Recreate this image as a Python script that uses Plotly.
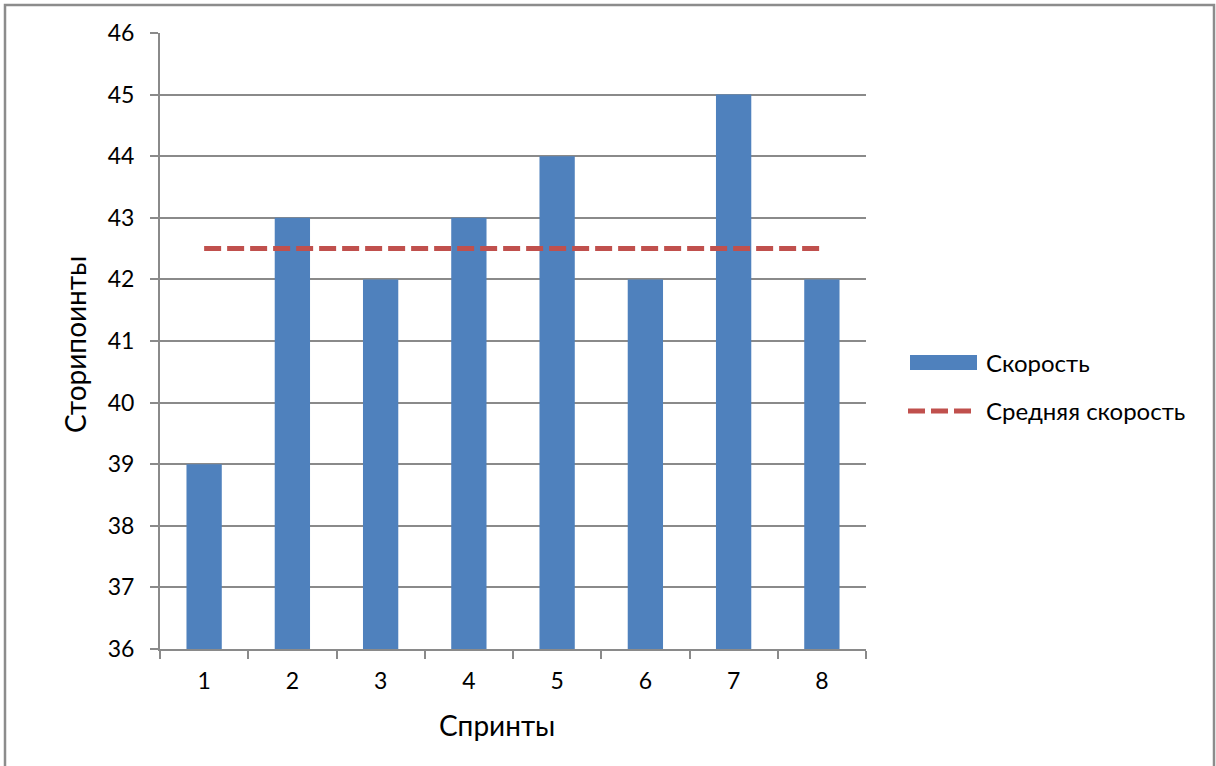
import plotly.graph_objects as go

# Sprint velocity data
sprints = ["1", "2", "3", "4", "5", "6", "7", "8"]
velocity = [39, 43, 42, 43, 44, 42, 45, 42]
average_velocity = [42.5] * len(sprints)
y_ticks = [36, 37, 38, 39, 40, 41, 42, 43, 44, 45, 46]

BLUE = "#4F81BD"
RED = "#C0504D"
GRID = "#8a8a8a"
FONT = "Lato, 'Open Sans', sans-serif"

W, H = 1216, 766
L, R, T, B = 160, 350, 33, 117
pw, ph = W - L - R, H - T - B


def px_x(x):
    return (x - L) / pw


def px_y(y):
    return (H - B - y) / ph


fig = go.Figure()
fig.add_trace(go.Bar(x=sprints, y=velocity, name="Скорость",
                     marker=dict(color=BLUE, line=dict(width=0)),
                     width=0.4, showlegend=False))
fig.add_trace(go.Scatter(x=sprints, y=average_velocity, name="Средняя скорость",
                         mode="lines", line=dict(color=RED, width=5, dash="17px,6px"),
                         showlegend=False))

shapes = [
    # outer chart frame
    dict(type="rect", xref="paper", yref="paper",
         x0=px_x(5), x1=px_x(1214), y0=px_y(780), y1=px_y(5),
         line=dict(color="#8c8c8c", width=2.5), fillcolor="rgba(0,0,0,0)", layer="below"),
    # legend swatches
    dict(type="rect", xref="paper", yref="paper",
         x0=px_x(910), x1=px_x(977), y0=px_y(370), y1=px_y(355),
         fillcolor=BLUE, line=dict(width=0)),
    dict(type="line", xref="paper", yref="paper",
         x0=px_x(908), x1=px_x(971), y0=px_y(411), y1=px_y(411),
         line=dict(color=RED, width=5, dash="17px,6px")),
]

annotations = [
    dict(text="Скорость", xref="paper", yref="paper", x=px_x(984), y=px_y(362),
         xanchor="left", yanchor="middle", showarrow=False,
         font=dict(family=FONT, size=24, color="#000")),
    dict(text="Средняя скорость", xref="paper", yref="paper", x=px_x(984), y=px_y(410),
         xanchor="left", yanchor="middle", showarrow=False,
         font=dict(family=FONT, size=24, color="#000")),
    dict(text="Спринты", xref="paper", yref="paper", x=px_x(497), y=px_y(725),
         xanchor="center", yanchor="middle", showarrow=False,
         font=dict(family=FONT, size=28, color="#000")),
    dict(text="Сторипоинты", xref="paper", yref="paper", x=px_x(75), y=px_y(345),
         xanchor="center", yanchor="middle", showarrow=False, textangle=-90,
         font=dict(family=FONT, size=28, color="#000")),
]

fig.update_layout(
    width=W, height=H,
    margin=dict(l=L, r=R, t=T, b=B, pad=0),
    paper_bgcolor="white", plot_bgcolor="white",
    font=dict(family=FONT, size=24, color="#000"),
    bargap=0.6,
    shapes=shapes,
    annotations=annotations,
    xaxis=dict(type="category", showline=True, linecolor=GRID, linewidth=2,
               ticks="outside", tickson="boundaries", ticklen=8, tickcolor=GRID,
               tickwidth=2, showgrid=False, ticklabelstandoff=10,
               tickfont=dict(size=23)),
    yaxis=dict(range=[36, 46], tickvals=y_ticks, showline=True, linecolor=GRID,
               linewidth=2, ticks="outside", ticklen=8, tickcolor=GRID, tickwidth=2,
               showgrid=True, gridcolor=GRID, gridwidth=2, zeroline=False,
               ticklabelstandoff=11, tickfont=dict(size=23)),
)

fig.write_html("out.html")
